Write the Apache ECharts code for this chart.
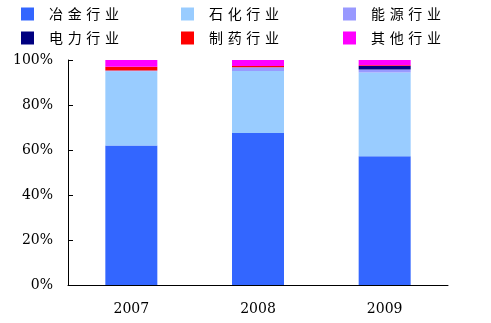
<!DOCTYPE html>
<html><head><meta charset="utf-8">
<script src="https://cdn.jsdelivr.net/npm/echarts@6/dist/echarts.min.js"></script>
<style>html,body{margin:0;padding:0;background:#fff}#c{width:491px;height:323px}</style>
</head><body><div id="c"></div>
<script>
const categories = ['2007', '2008', '2009'];
const metallurgy = [62.0, 67.6, 57.2];
const petrochem = [33.0, 27.5, 37.3];
const energy = [0.3, 1.7, 1.3];
const power = [0.0, 0.0, 1.5];
const pharma = [1.7, 0.5, 0.4];
const others = [3.0, 2.7, 2.3];
const yTicks = ['0%', '20%', '40%', '60%', '80%', '100%'];

const names = ['冶金行业', '石化行业', '能源行业', '电力行业', '制药行业', '其他行业'];
const colors = ['#3366FF', '#99CCFF', '#9999FF', '#000080', '#FF0000', '#FF00FF'];
const values = [metallurgy, petrochem, energy, power, pharma, others];

const sp = '\u2004';
function legendCol(left, data) {
  return {
    orient: 'vertical', left: left, top: 2, itemWidth: 13, itemHeight: 13, itemGap: 10,
    icon: 'rect', data: data,
    formatter: n => n.split('').join(sp),
    textStyle: { fontFamily: 'Noto Sans CJK SC', fontSize: 14, color: '#000', padding: [0, 0, 0, 10] }
  };
}

const chart = echarts.init(document.getElementById('c'));
chart.setOption({
  animation: false,
  color: colors,
  legend: [
    legendCol(16, [names[0], names[3]]),
    legendCol(176, [names[1], names[4]]),
    legendCol(338, [names[2], names[5]])
  ],
  grid: { left: 68, right: 43, top: 60, bottom: 38 },
  xAxis: {
    type: 'category', data: categories,
    axisLine: { lineStyle: { color: '#000', width: 1 } },
    axisTick: { inside: true, length: 5, lineStyle: { color: '#000' } },
    axisLabel: { fontFamily: 'DejaVu Serif', fontSize: 14, color: '#000', margin: 17 }
  },
  yAxis: {
    type: 'value', min: 0, max: 100, interval: 20,
    axisLine: { show: true, lineStyle: { color: '#000', width: 1 } },
    axisTick: { show: true, inside: true, length: 5, lineStyle: { color: '#000' } },
    splitLine: { show: false },
    axisLabel: { fontFamily: 'DejaVu Serif', fontSize: 14, color: '#000', margin: 15,
      formatter: v => yTicks[Math.round(v / 20)] }
  },
  series: names.map((n, i) => ({
    name: n, type: 'bar', stack: 'total', barWidth: 52, data: values[i],
    itemStyle: { color: colors[i] }
  }))
});
</script></body></html>
